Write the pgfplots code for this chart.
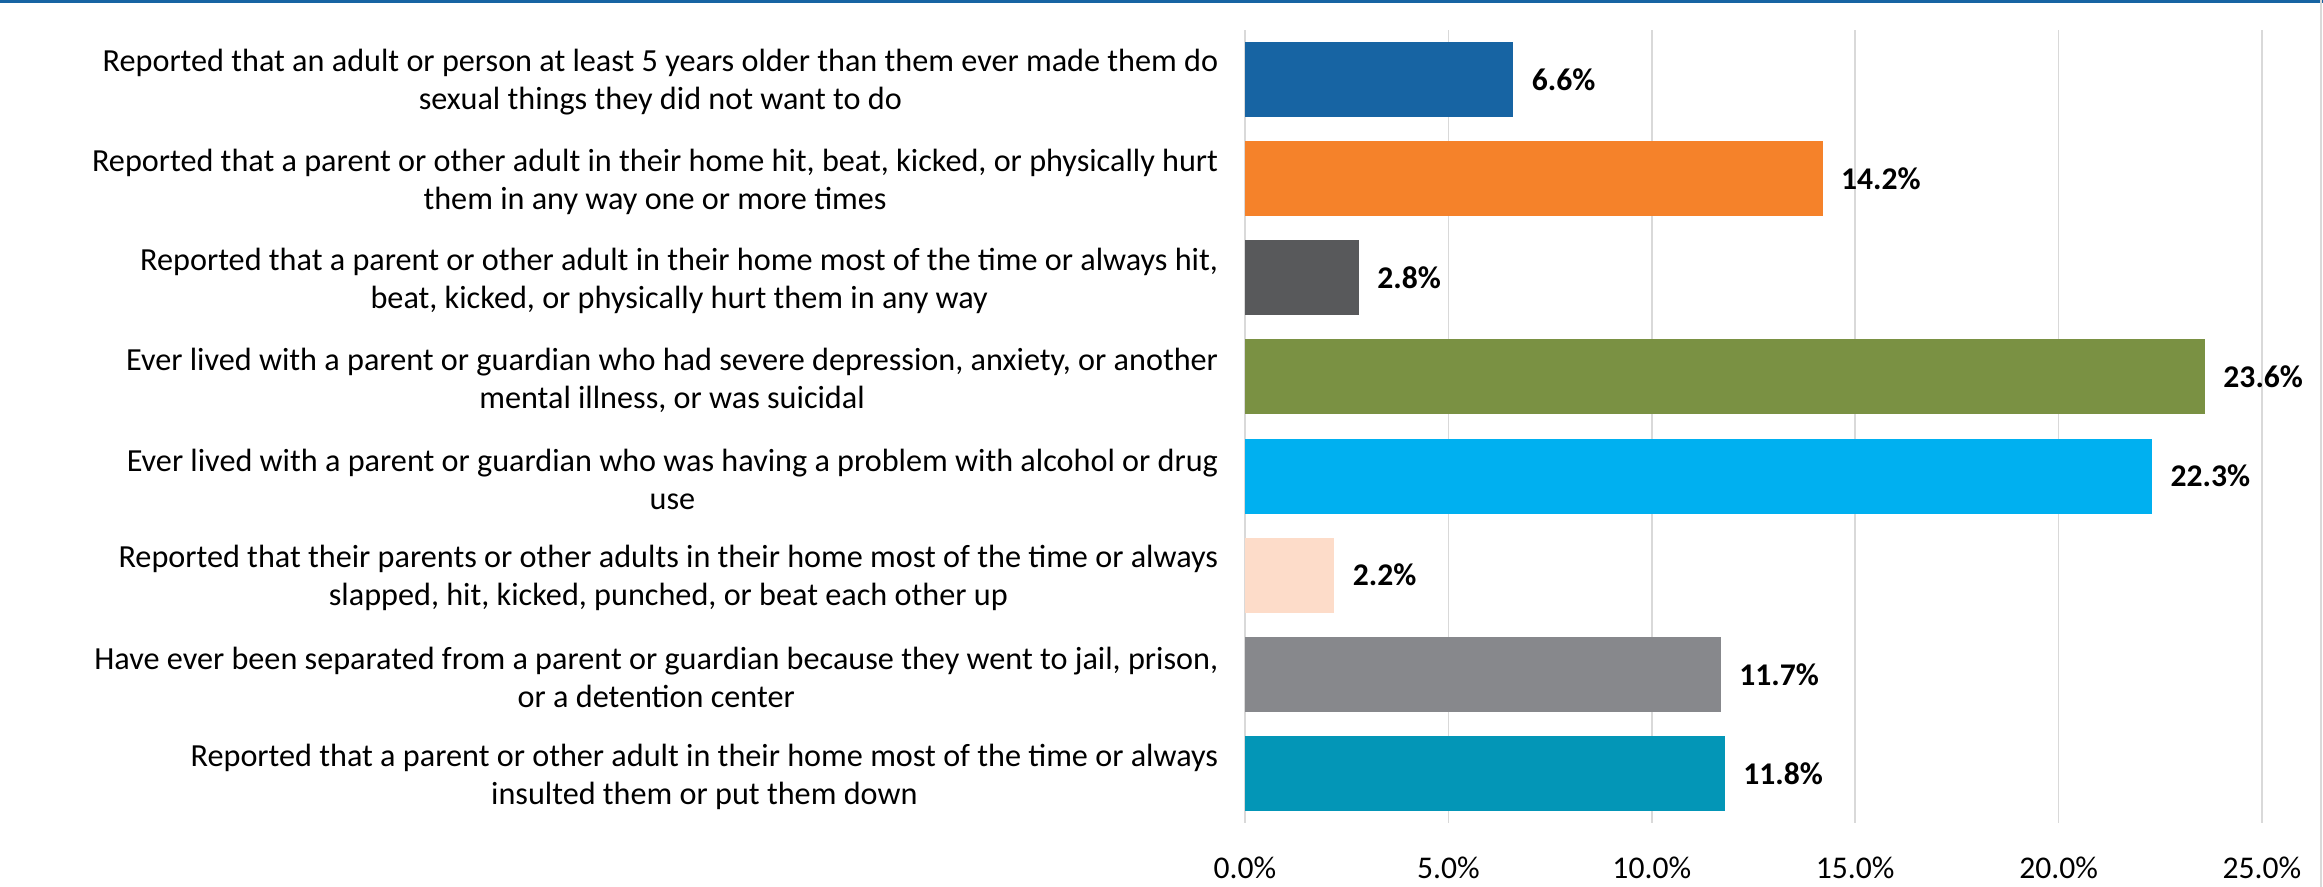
\documentclass[border=0pt]{standalone}
\usepackage{pgfplots}
\pgfplotsset{compat=1.18}
\usepackage{fontspec}
\setmainfont{Carlito}
\definecolor{c1}{HTML}{1764A3}
\definecolor{c2}{HTML}{F5822A}
\definecolor{c3}{HTML}{58595B}
\definecolor{c4}{HTML}{7A9143}
\definecolor{c5}{HTML}{00B0F0}
\definecolor{c6}{HTML}{FDDCC9}
\definecolor{c7}{HTML}{87888C}
\definecolor{c8}{HTML}{0396B7}
\definecolor{gridgray}{HTML}{D9D9D9}
\begin{document}
\begin{tikzpicture}[x=1pt,y=1pt]
\useasboundingbox (0,0) rectangle (1161.5,443.5);
\fill[white] (0,0) rectangle (1161.5,443.5);
\fill[c1] (0,441.8) rectangle (1161.5,443.5);
\fill[gridgray] (1159.8,0) rectangle (1160.8,443.5);
\begin{axis}[
  at={(622.5pt,32pt)}, anchor=south west,
  scale only axis, width=508.5pt, height=396.5pt,
  xbar, bar width=37.5pt, bar shift=0pt,
  xmin=0, xmax=25, ymin=-0.5, ymax=7.5,
  y dir=reverse,
  enlargelimits=false,
  axis line style={draw=none},
  major tick style={draw=none},
  xmajorgrids, grid style={gridgray, line width=0.8pt},
  xtick={0,5,10,15,20,25},
  xticklabel={\pgfmathprintnumber[fixed,fixed zerofill,precision=1]{\tick}\%},
  /pgf/number format/assume math mode=true,
  xticklabel style={font=\fontsize{15.8}{19}\selectfont, anchor=center, yshift=-22.5pt, inner sep=0pt},
  ytick={0,...,7},
  yticklabels={
    {Reported that an adult or person at least 5 years older than them ever made them do\\sexual things they did not want to do},
    {Reported that a parent or other adult in their home hit, beat, kicked, or physically hurt\\them in any way one or more times},
    {Reported that a parent or other adult in their home most of the time or always hit,\\beat, kicked, or physically hurt them in any way},
    {Ever lived with a parent or guardian who had severe depression, anxiety, or another\\mental illness, or was suicidal},
    {Ever lived with a parent or guardian who was having a problem with alcohol or drug\\use},
    {Reported that their parents or other adults in their home most of the time or always\\slapped, hit, kicked, punched, or beat each other up},
    {Have ever been separated from a parent or guardian because they went to jail, prison,\\or a detention center},
    {Reported that a parent or other adult in their home most of the time or always\\insulted them or put them down}
  },
  yticklabel style={font=\fontsize{16.1}{19}\selectfont, align=center, anchor=east, inner sep=0pt, xshift=-9pt, yshift=-1.5pt},
  nodes near coords={\pgfmathprintnumber[fixed,fixed zerofill,precision=1]{\pgfplotspointmeta}\%},
  point meta=x,
  nodes near coords style={font=\bfseries\fontsize{15.8}{19}\selectfont, anchor=west, inner sep=0pt, xshift=9pt, /pgf/number format/assume math mode=true},
]
\addplot[fill=c1, draw=none] coordinates {(6.6,0)};
\addplot[fill=c2, draw=none] coordinates {(14.2,1)};
\addplot[fill=c3, draw=none] coordinates {(2.8,2)};
\addplot[fill=c4, draw=none] coordinates {(23.6,3)};
\addplot[fill=c5, draw=none] coordinates {(22.3,4)};
\addplot[fill=c6, draw=none] coordinates {(2.2,5)};
\addplot[fill=c7, draw=none] coordinates {(11.7,6)};
\addplot[fill=c8, draw=none] coordinates {(11.8,7)};
\end{axis}
\end{tikzpicture}
\end{document}
